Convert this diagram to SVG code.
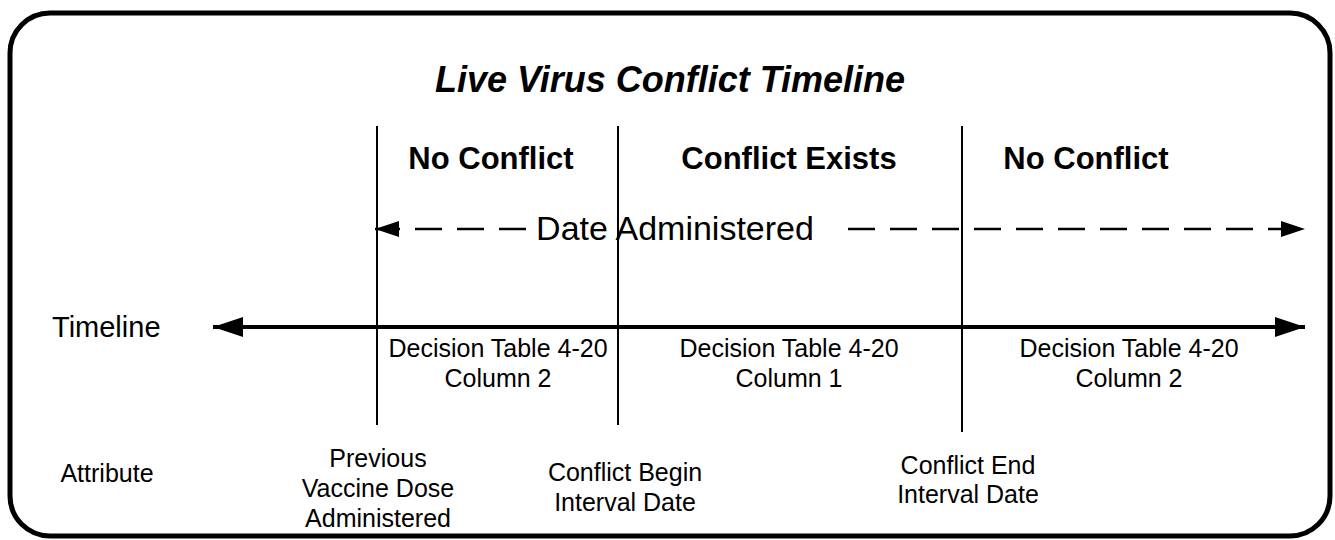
<svg xmlns="http://www.w3.org/2000/svg" width="1335" height="540" viewBox="0 0 1335 540">
<defs>
<style>
text{font-family:"Liberation Sans",Arial,sans-serif;fill:#000}
.title{font-size:36px;font-weight:bold;font-style:italic}
.zone{font-size:31px;font-weight:bold}
.lbl{font-size:25px}
.big{font-size:34px}
.div{stroke:#000;stroke-width:2;fill:none}
.dash{stroke:#000;stroke-width:2.5;stroke-dasharray:27 15;fill:none}
</style>
<marker id="ah" viewBox="0 0 30 20" refX="30" refY="10" markerWidth="30" markerHeight="20" markerUnits="userSpaceOnUse" orient="auto-start-reverse">
<path d="M0,0 L30,10 L0,20 Z" fill="#000"/>
</marker>
<marker id="ahs" viewBox="0 0 24 16" refX="24" refY="8" markerWidth="24" markerHeight="16" markerUnits="userSpaceOnUse" orient="auto-start-reverse">
<path d="M0,0 L24,8 L0,16 Z" fill="#000"/>
</marker>
</defs>
<rect x="10" y="13" width="1320" height="523" rx="40" ry="40" fill="#fff" stroke="#000" stroke-width="5"/>
<g id="title"><text class="title" x="670" y="92" text-anchor="middle">Live Virus Conflict Timeline</text></g>
<g id="connectors">
<line class="div" x1="377" y1="126" x2="377" y2="425"/>
<line class="div" x1="618" y1="126" x2="618" y2="425"/>
<line class="div" x1="962" y1="126" x2="962" y2="432"/>
<line x1="213" y1="327" x2="1305" y2="327" stroke="#000" stroke-width="4" marker-start="url(#ah)" marker-end="url(#ah)"/>
<line class="dash" x1="375" y1="229" x2="526" y2="229" stroke-dashoffset="2" marker-start="url(#ahs)"/>
<line class="dash" x1="848" y1="229" x2="1305" y2="229" marker-end="url(#ahs)"/>
</g>
<g id="zones">
<text class="zone" x="491" y="169" text-anchor="middle">No Conflict</text>
<text class="zone" x="789" y="169" text-anchor="middle">Conflict Exists</text>
<text class="zone" x="1086" y="169" text-anchor="middle">No Conflict</text>
</g>
<g id="date-administered"><text class="big" x="675" y="240" text-anchor="middle">Date Administered</text></g>
<g id="timeline-label"><text x="52" y="337" font-size="29">Timeline</text></g>
<g id="decision-1">
<text class="lbl" x="498" y="357" text-anchor="middle">Decision Table 4-20</text>
<text class="lbl" x="498" y="387" text-anchor="middle">Column 2</text>
</g>
<g id="decision-2">
<text class="lbl" x="789" y="357" text-anchor="middle">Decision Table 4-20</text>
<text class="lbl" x="789" y="387" text-anchor="middle">Column 1</text>
</g>
<g id="decision-3">
<text class="lbl" x="1129" y="357" text-anchor="middle">Decision Table 4-20</text>
<text class="lbl" x="1129" y="387" text-anchor="middle">Column 2</text>
</g>
<g id="attribute"><text class="lbl" x="107" y="482" text-anchor="middle">Attribute</text></g>
<g id="previous-dose">
<text class="lbl" x="378" y="467" text-anchor="middle">Previous</text>
<text class="lbl" x="378" y="497" text-anchor="middle">Vaccine Dose</text>
<text class="lbl" x="378" y="527" text-anchor="middle">Administered</text>
</g>
<g id="conflict-begin">
<text class="lbl" x="625" y="481" text-anchor="middle">Conflict Begin</text>
<text class="lbl" x="625" y="511" text-anchor="middle">Interval Date</text>
</g>
<g id="conflict-end">
<text class="lbl" x="968" y="474" text-anchor="middle">Conflict End</text>
<text class="lbl" x="968" y="503" text-anchor="middle">Interval Date</text>
</g>
</svg>
